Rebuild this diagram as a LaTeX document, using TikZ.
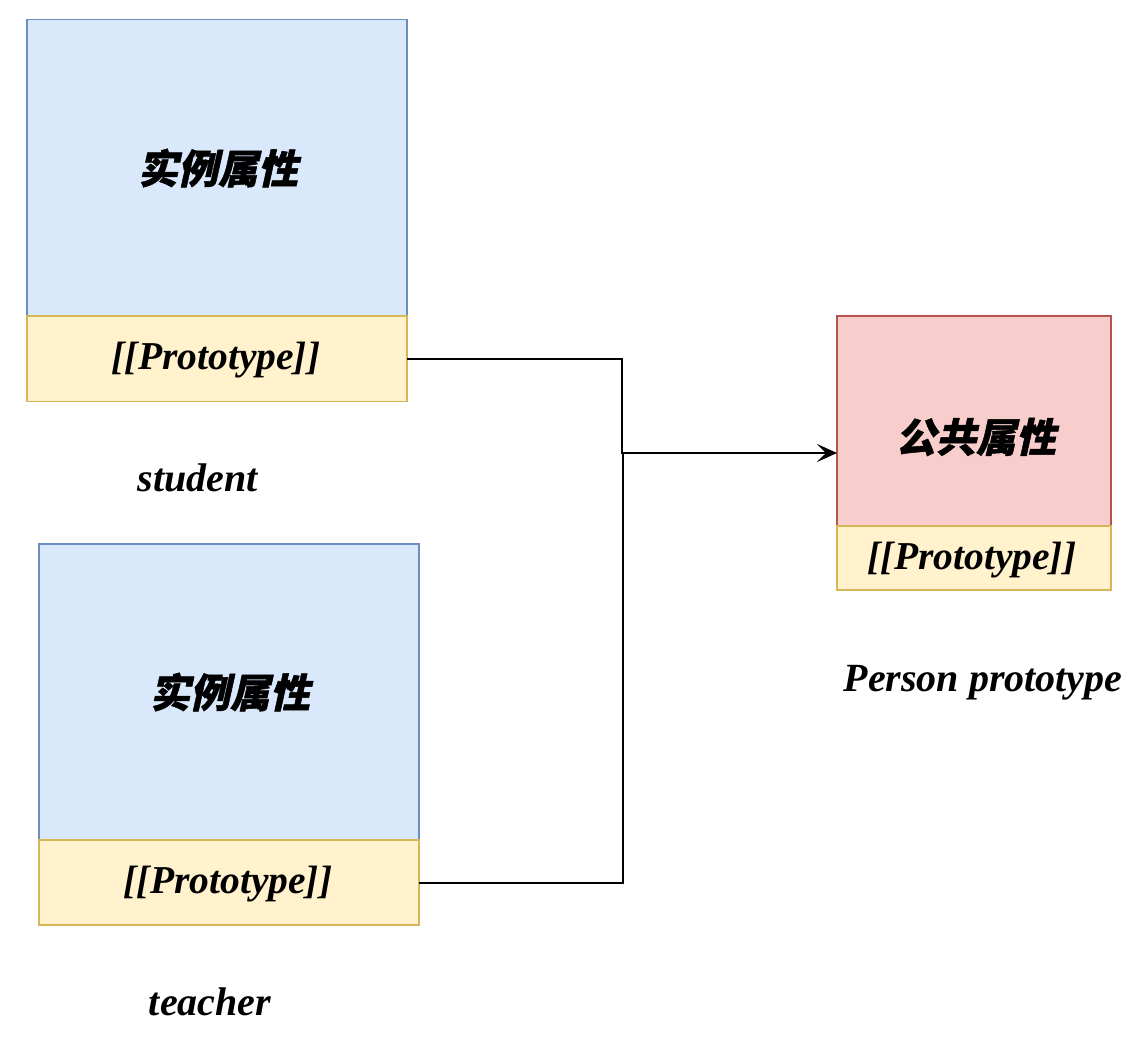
\documentclass[tikz,border=0pt]{standalone}
\usepackage{fontspec}
\setmainfont{Liberation Serif}
\newfontfamily\cjk[FakeSlant=0.22,FakeBold=1.2]{Noto Sans CJK SC}
\usetikzlibrary{arrows.meta}
\definecolor{bluefill}{HTML}{DAE8FC}
\definecolor{bluedraw}{HTML}{6C8EBF}
\definecolor{yelfill}{HTML}{FFF2CC}
\definecolor{yeldraw}{HTML}{D6B656}
\definecolor{redfill}{HTML}{F8CECC}
\definecolor{reddraw}{HTML}{B85450}
\begin{document}
\begin{tikzpicture}[x=1pt,y=-1pt,
  bluebox/.style={draw=bluedraw,fill=bluefill,line width=1.5pt},
  yelbox/.style={draw=yeldraw,fill=yelfill,line width=1.5pt},
  redbox/.style={draw=reddraw,fill=redfill,line width=1.5pt},
  cjktxt/.style={font=\cjk\bfseries\fontsize{40}{44}\selectfont},
  prototxt/.style={font=\bfseries\itshape\fontsize{39.5}{44}\selectfont},
  lbl/.style={font=\bfseries\itshape\fontsize{40}{44}\selectfont},
  conn/.style={line width=2.5pt,black}]
\useasboundingbox (0,0) rectangle (1140,1049);
% student
\draw[bluebox] (27,19.5) rectangle (407,316);
\draw[yelbox] (27,316) rectangle (407,401.5);
\node[cjktxt] (s1) at (218,168) {实例属性};
\node[prototxt] (sp) at (216,360) {[[Prototype]]};
\coordinate (sr) at (407,359);
\node[lbl] (sl) at (198,478) {student};
% teacher
\draw[bluebox] (39,544) rectangle (419,840);
\draw[yelbox] (39,840) rectangle (419,925);
\node[cjktxt] (t1) at (230,692) {实例属性};
\node[prototxt] (tp) at (228,884) {[[Prototype]]};
\coordinate (tr) at (419,883);
\node[lbl] (tl) at (210,1002) {teacher};
% person
\draw[redbox] (837,316) rectangle (1111,526);
\draw[yelbox] (837,526) rectangle (1111,590);
\node[cjktxt] (p1) at (976,437) {公共属性};
\node[prototxt] (pp) at (972,560) {[[Prototype]]};
\coordinate (pl) at (837,453);
\node[lbl] (plbl) at (983,683) {Person prototype};
% connectors
\coordinate (j) at (622,453);
\draw[conn,-{Stealth[length=20pt,width=18pt,inset=9pt]}] (sr) -| (j) -- (pl);
\draw[conn] (tr) -| (623,453);
\end{tikzpicture}
\end{document}
